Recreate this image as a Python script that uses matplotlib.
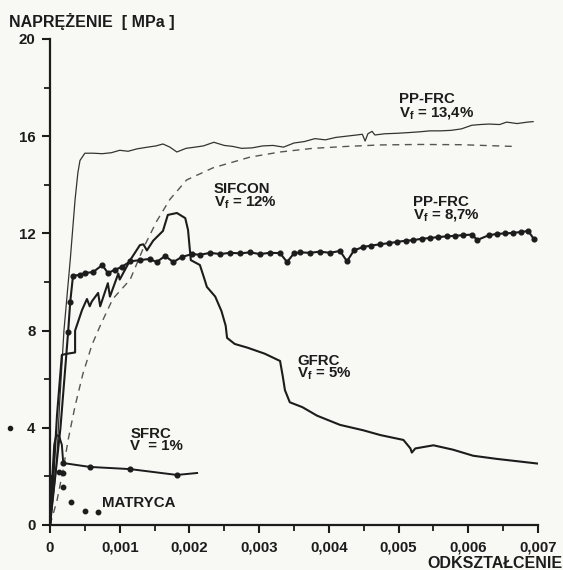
import matplotlib
matplotlib.use("Agg")
import matplotlib.pyplot as plt
from matplotlib.ticker import FixedLocator

plt.rcParams["font.family"] = ["Liberation Sans", "DejaVu Sans"]
plt.rcParams["mathtext.fontset"] = "custom"
plt.rcParams["mathtext.rm"] = "Liberation Sans:bold"
plt.rcParams["mathtext.it"] = "Liberation Sans:bold"
plt.rcParams["mathtext.bf"] = "Liberation Sans:bold"

# strain in units of 0.001, stress in MPa
PP134_X = [0.0, 0.09, 0.14, 0.20, 0.29, 0.36, 0.40, 0.43, 0.50, 0.62, 0.75, 0.88, 1.00, 1.12,
           1.25, 1.40, 1.52, 1.62, 1.72, 1.82, 1.95, 2.08, 2.20, 2.35, 2.50, 2.62, 2.75, 2.90,
           3.05, 3.20, 3.35, 3.50, 3.65, 3.80, 3.95, 4.10, 4.25, 4.40, 4.48, 4.52, 4.56, 4.62,
           4.66, 4.80, 4.98, 5.15, 5.30, 5.45, 5.60, 5.75, 5.90, 6.05, 6.17, 6.30, 6.45, 6.55,
           6.70, 6.85, 6.93]
PP134_Y = [0.0, 2.3, 5.1, 8.0, 10.9, 13.4, 14.5, 15.0, 15.3, 15.3, 15.28, 15.32, 15.42, 15.38,
           15.48, 15.55, 15.6, 15.68, 15.55, 15.35, 15.5, 15.55, 15.6, 15.75, 15.62, 15.58, 15.5,
           15.52, 15.6, 15.62, 15.55, 15.72, 15.78, 15.9, 15.85, 15.95, 16.0, 16.05, 16.08, 15.8,
           16.1, 16.2, 16.05, 16.1, 16.12, 16.15, 16.18, 16.22, 16.22, 16.24, 16.3, 16.45, 16.48,
           16.5, 16.48, 16.58, 16.52, 16.58, 16.6]

SIFCON_X = [0.0, 0.10, 0.19, 0.26, 0.36, 0.47, 0.60, 0.72, 0.90, 1.15, 1.34, 1.53, 1.72, 1.96,
            2.34, 2.87, 3.30, 3.77, 4.26, 4.73, 5.30, 5.90, 6.64]
SIFCON_Y = [0.0, 1.0, 2.3, 3.5, 4.9, 6.2, 7.4, 8.2, 9.3, 10.1, 11.4, 12.5, 13.4, 14.2,
            14.7, 15.14, 15.35, 15.5, 15.58, 15.64, 15.66, 15.65, 15.58]

GFRC_X = [0.0, 0.03, 0.10, 0.17, 0.25, 0.36, 0.36, 0.46, 0.53, 0.57, 0.60, 0.69, 0.72, 0.83,
          0.86, 0.98, 1.00, 1.15, 1.29, 1.34, 1.39, 1.48, 1.62, 1.69, 1.82, 1.94, 1.98, 2.01,
          2.02, 2.15, 2.22, 2.25, 2.37, 2.46, 2.52, 2.54, 2.65, 2.83, 3.08, 3.30, 3.34, 3.37,
          3.44, 3.62, 3.83, 4.16, 4.49, 4.74, 5.07, 5.17, 5.19, 5.24, 5.50, 5.78, 6.07, 6.41,
          6.99]
GFRC_Y = [0.0, 1.0, 4.5, 7.0, 7.05, 7.1, 8.0, 8.85, 9.3, 9.0, 9.2, 9.55, 9.0, 9.95,
          9.4, 10.35, 10.1, 10.9, 11.52, 11.55, 11.3, 11.7, 12.1, 12.76, 12.84, 12.63, 12.14, 11.2,
          10.9, 10.7, 10.08, 9.8, 9.4, 8.8, 8.2, 7.7, 7.45, 7.3, 7.05, 6.75, 6.1, 5.55,
          5.05, 4.85, 4.5, 4.12, 3.9, 3.7, 3.5, 3.15, 2.98, 3.15, 3.28, 3.1, 2.85, 2.72,
          2.53]

PP87_X = [0.0, 0.15, 0.26, 0.29, 0.33, 0.43, 0.50, 0.62, 0.75, 0.83, 0.93, 1.03, 1.15, 1.29,
          1.43, 1.53, 1.65, 1.77, 1.89, 2.04, 2.15, 2.30, 2.44, 2.58, 2.73, 2.87, 3.01, 3.15,
          3.30, 3.40, 3.50, 3.59, 3.73, 3.87, 4.02, 4.16, 4.26, 4.36, 4.49, 4.61, 4.73, 4.86,
          4.98, 5.10, 5.21, 5.33, 5.45, 5.57, 5.70, 5.81, 5.93, 6.05, 6.13, 6.29, 6.41, 6.53,
          6.64, 6.76, 6.86, 6.94]
PP87_Y = [0.0, 4.0, 7.94, 9.18, 10.25, 10.3, 10.37, 10.41, 10.7, 10.37, 10.5, 10.62, 10.85, 10.9,
          10.95, 10.82, 11.07, 10.82, 11.03, 11.15, 11.12, 11.2, 11.15, 11.2, 11.18, 11.22, 11.15,
          11.2, 11.19, 10.82, 11.18, 11.22, 11.2, 11.25, 11.2, 11.28, 10.85, 11.3, 11.44, 11.5,
          11.55, 11.6, 11.65, 11.7, 11.72, 11.78, 11.81, 11.85, 11.88, 11.9, 11.93, 11.95, 11.73,
          11.92, 11.98, 12.0, 12.02, 12.06, 12.1, 11.77]

SFRC_X = [0.0, 0.03, 0.06, 0.09, 0.13, 0.17, 0.19, 0.57, 1.15, 1.82, 2.11]
SFRC_Y = [0.0, 1.85, 3.3, 3.7, 3.66, 3.3, 2.55, 2.39, 2.3, 2.06, 2.14]

MATRIX_LINE_X = [0.0, 0.01]
MATRIX_LINE_Y = [0.0, 2.0]
MATRIX_DOTS_X = [0.13, 0.18, 0.19, 0.30, 0.50, 0.69]
MATRIX_DOTS_Y = [2.2, 2.15, 1.56, 0.95, 0.58, 0.53]

X_TICKS = [0, 1, 2, 3, 4, 5, 6, 7]
X_LABELS = ["0", "0,001", "0,002", "0,003", "0,004", "0,005", "0,006", "0,007"]
Y_TICKS = [0, 4, 8, 12, 16, 20]

INK = "#1c1c1c"
BG = "#f8f8f4"

fig = plt.figure(figsize=(5.63, 5.70), dpi=100, facecolor=BG)
ax = fig.add_axes([50 / 563, 45 / 570, 488 / 563, 486 / 570], facecolor=BG)

ax.plot(PP134_X, PP134_Y, color="#333333", lw=0.9)
ax.plot(SIFCON_X, SIFCON_Y, color="#555555", lw=1.0, ls=(0, (5, 4)))
ax.plot(GFRC_X, GFRC_Y, color=INK, lw=1.5)
ax.plot(PP87_X, PP87_Y, color=INK, lw=1.5, marker="o", ms=3.4,
        markevery=list(range(2, len(PP87_X))))
ax.plot(SFRC_X, SFRC_Y, color=INK, lw=1.4, marker="o", ms=3.4, markevery=[6, 7, 8, 9])
ax.plot(MATRIX_LINE_X, MATRIX_LINE_Y, color=INK, lw=2.2)
ax.plot(MATRIX_DOTS_X, MATRIX_DOTS_Y, ls="none", marker="o", ms=3.2, color=INK)
# stray scan dot left of the axis
ax.plot([-0.57], [4.0], ls="none", marker="o", ms=3.0, color=INK, clip_on=False)

ax.set_xlim(0, 7)
ax.set_ylim(0, 20)
for side in ("top", "right"):
    ax.spines[side].set_visible(False)
for side in ("left", "bottom"):
    ax.spines[side].set_linewidth(1.6)
    ax.spines[side].set_color(INK)

ax.xaxis.set_major_locator(FixedLocator(X_TICKS))
ax.xaxis.set_minor_locator(FixedLocator([0.5, 1.5, 2.5, 3.5, 4.5, 5.5, 6.5]))
ax.yaxis.set_major_locator(FixedLocator(Y_TICKS))
ax.yaxis.set_minor_locator(FixedLocator([2, 6, 10, 14, 18]))
ax.set_xticklabels(X_LABELS)
ax.tick_params(axis="both", which="major", direction="out", length=5.5, width=1.5,
               color=INK, labelsize=10.8, labelcolor=INK)
ax.tick_params(axis="both", which="minor", direction="out", length=4.5, width=1.3, color=INK)
ax.tick_params(axis="x", which="major", pad=6)
ax.tick_params(axis="y", which="major", pad=5)
for lab in ax.get_xticklabels() + ax.get_yticklabels():
    lab.set_fontweight("bold")

fig.text(9 / 563, 1 - 21 / 570, "NAPRĘŻENIE  [ MPa ]", fontsize=11.5, fontweight="bold",
         color=INK, ha="left", va="center")
fig.text(563 / 563, 1 - 563 / 570, "ODKSZTAŁCENIE", fontsize=11.5, fontweight="bold",
         color=INK, ha="right", va="center")

def label(x, y, lines):
    ax.text(x, y, lines, fontsize=10.8, fontweight="bold", color=INK, ha="left", va="top",
            linespacing=0.85)

label(5.0, 17.8, "PP-FRC\nV$_\\mathregular{f}$ = 13,4%")
label(2.35, 14.1, "SIFCON\nV$_\\mathregular{f}$ = 12%")
label(5.2, 13.6, "PP-FRC\nV$_\\mathregular{f}$ = 8,7%")
label(3.55, 7.05, "GFRC\nV$_\\mathregular{f}$ = 5%")
label(1.15, 4.05, "SFRC\nV  = 1%")
ax.text(0.75, 0.9, "MATRYCA", fontsize=10.8, fontweight="bold", color=INK, ha="left",
        va="center")

fig.savefig("out.png", dpi=100, facecolor=BG)
